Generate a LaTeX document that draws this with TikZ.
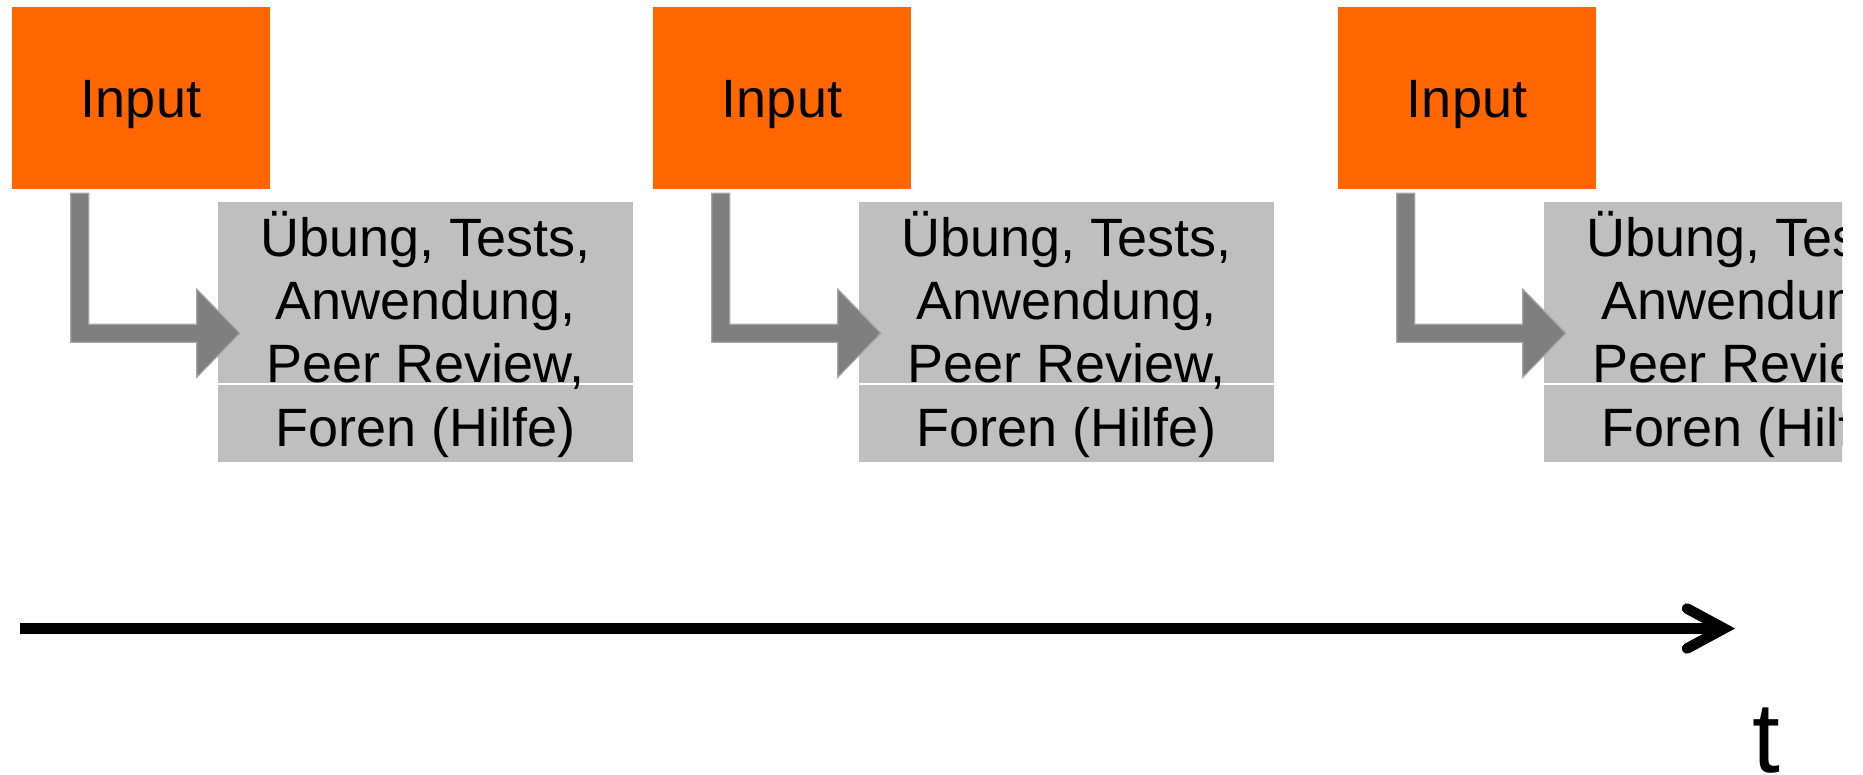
\documentclass[tikz,border=0pt]{standalone}
\usepackage{fontspec}
\setmainfont{Liberation Sans}
\usetikzlibrary{calc}
\definecolor{inorange}{HTML}{FF6600}
\definecolor{boxgray}{HTML}{BFBFBF}
\definecolor{arrgray}{HTML}{7F7F7F}
\definecolor{arredge}{HTML}{A6A6A6}
\begin{document}
\begin{tikzpicture}[x=1pt,y=-1pt,
  bigfont/.style={font=\fontsize{54}{63}\selectfont},
  inbox/.style={fill=inorange, inner sep=0pt, minimum width=258pt, minimum height=182pt,
    text height=39pt, text depth=0pt, bigfont},
  cell/.style={fill=boxgray, draw=white, line width=1.5pt, inner sep=0pt, minimum width=417pt},
  celltext/.style={anchor=base, inner sep=0pt, bigfont},
  bent/.style={fill=arrgray, draw=arredge, line width=1.2pt, line join=miter},
  timeline/.style={line width=11pt},
  chevron/.style={line width=10.5pt, line cap=round, line join=miter}]
\useasboundingbox (0,0) rectangle (1863,775);
\begin{scope}
\clip (0,0) rectangle (1842,775);
\foreach \i/\dx in {1/0,2/641,3/1326}{
  \node[inbox] (in\i) at (141+\dx,98) {Input};
  \node[cell, minimum height=183pt] (top\i) at (425.5+\dx,292.5) {};
  \node[cell, minimum height=79pt] (bot\i) at (425.5+\dx,423.5) {};
  \node[celltext] (la\i) at ([yshift=-56pt]top\i.north) {Übung, Tests,};
  \node[celltext] (lb\i) at ([yshift=-119pt]top\i.north) {Anwendung,};
  \node[celltext] (lc\i) at ([yshift=-182pt]top\i.north) {Peer Review,};
  \node[celltext] (ld\i) at ([yshift=-63pt]bot\i.north) {Foren (Hilfe)};
  \path (in\i.south west) ++(59,4) coordinate (a\i);
  \draw[bent] (a\i) -- ++(18,0) -- ++(0,131) -- ++(108,0) -- ++(0,-35)
     -- ++(43,44) -- ++(-43,44) -- ++(0,-35) -- ++(-126,0) -- cycle;
}
\end{scope}
\coordinate (t0) at (20,628.5);
\coordinate (t1) at (1724,628.5);
\draw[timeline] (t0) -- (t1);
\draw[chevron] ([shift={(-37,-20)}]t1) -- (t1) -- ([shift={(-37,20)}]t1);
\node[anchor=base, inner sep=0pt, font=\fontsize{100}{120}\selectfont] (tlabel) at (1766,772) {t};
\end{tikzpicture}
\end{document}
